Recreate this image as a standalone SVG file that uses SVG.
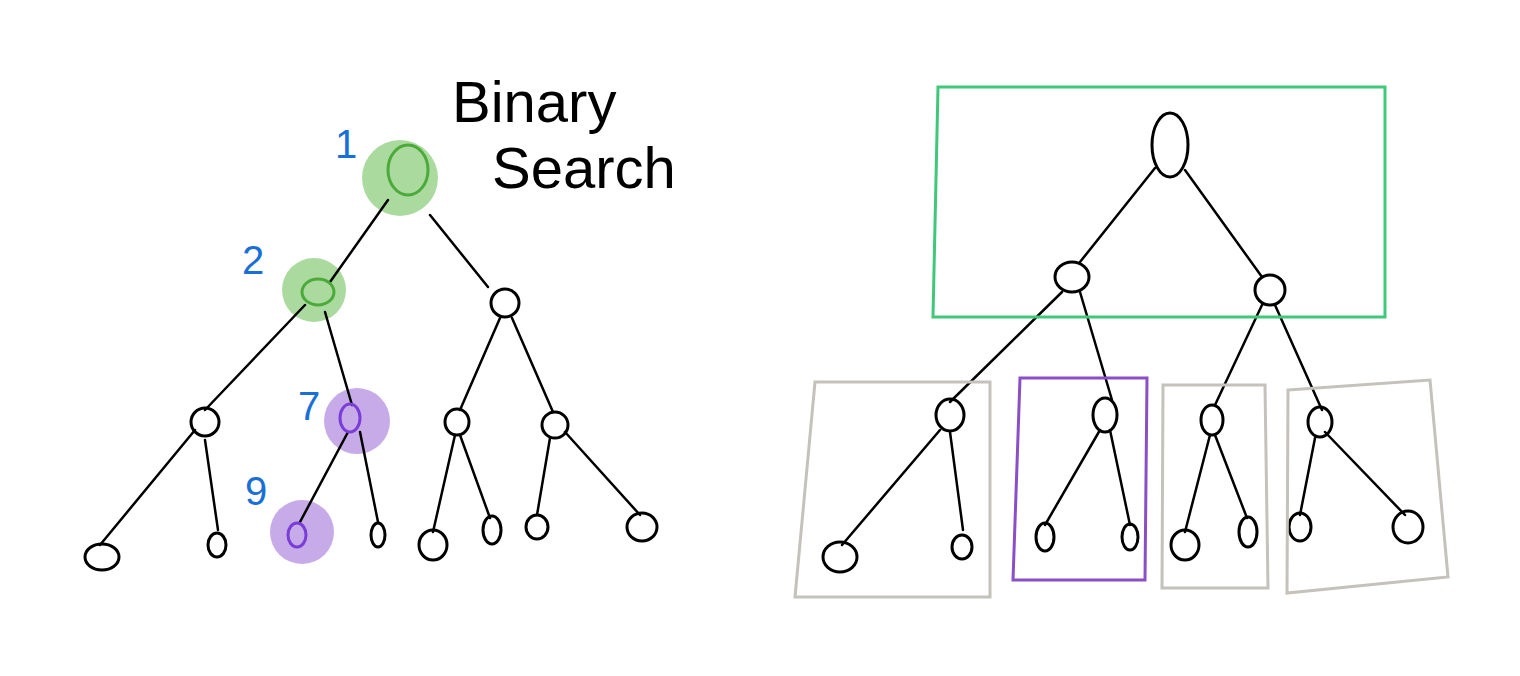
<svg xmlns="http://www.w3.org/2000/svg" width="1520" height="676" viewBox="0 0 1520 676">
<style>
.n{fill:none;stroke:#000;stroke-width:3}
.g{stroke:#4caa3a}
.p{stroke:#7a3ed6}
.e{stroke:#000;stroke-width:2.5;fill:none;stroke-linecap:round}
.lbl{font-family:"Liberation Sans",sans-serif;fill:#1a6fd6;font-size:40px}
.t{font-family:"Liberation Sans",sans-serif;fill:#000;font-size:58px;font-weight:300}
</style>
<rect width="1520" height="676" fill="#fff"/>
<g id="highlights">
<circle cx="400" cy="178" r="38" fill="#8fce7f" opacity="0.75"/>
<circle cx="314" cy="290" r="32" fill="#8fce7f" opacity="0.75"/>
<circle cx="357" cy="421" r="33" fill="#b48ee0" opacity="0.75"/>
<circle cx="302" cy="532" r="32" fill="#b48ee0" opacity="0.75"/>
</g>
<g id="connectors">
<path class="e" d="M388 200 L330 282 M430 215 L488 287 M305 305 L205 410 M325 312 L352 405 M500 318 L460 410 M512 318 L553 412 M195 430 L100 545 M205 440 L218 530 M348 432 L300 522 M360 432 L378 522 M455 435 L433 532 M460 435 L490 518 M550 438 L537 515 M565 432 L640 515"/>
<path class="e" d="M1155 168 L1080 262 M1185 170 L1262 277 M1062 292 L950 402 M1080 292 L1112 400 M1262 305 L1215 405 M1275 305 L1322 410 M940 430 L842 545 M950 432 L963 530 M1100 430 L1045 525 M1110 430 L1130 525 M1210 435 L1185 532 M1215 435 L1247 518 M1315 438 L1300 515 M1325 432 L1405 515"/>
</g>
<g id="left-nodes">
<ellipse class="n g" cx="408" cy="170" rx="20" ry="25"/>
<ellipse class="n g" cx="318" cy="292" rx="16" ry="13"/>
<ellipse class="n" cx="505" cy="303" rx="14" ry="14"/>
<ellipse class="n" cx="205" cy="422" rx="14" ry="14"/>
<ellipse class="n p" cx="350" cy="418" rx="10" ry="14"/>
<ellipse class="n" cx="457" cy="422" rx="12" ry="13"/>
<ellipse class="n" cx="555" cy="425" rx="13" ry="13"/>
<ellipse class="n" cx="102" cy="557" rx="17" ry="13"/>
<ellipse class="n" cx="217" cy="545" rx="9" ry="12"/>
<ellipse class="n p" cx="297" cy="535" rx="9" ry="12"/>
<ellipse class="n" cx="378" cy="535" rx="7" ry="12"/>
<ellipse class="n" cx="433" cy="545" rx="14" ry="15"/>
<ellipse class="n" cx="492" cy="530" rx="9" ry="14"/>
<ellipse class="n" cx="537" cy="527" rx="11" ry="12"/>
<ellipse class="n" cx="642" cy="527" rx="15" ry="14"/>
</g>
<g id="labels">
<text class="lbl" x="335" y="158">1</text>
<text class="lbl" x="242" y="274">2</text>
<text class="lbl" x="298" y="420">7</text>
<text class="lbl" x="245" y="505">9</text>
<text class="t" x="452" y="122">Binary</text>
<text class="t" x="492" y="188">Search</text>
</g>
<g id="right-nodes">
<ellipse class="n" cx="1170" cy="145" rx="18" ry="32"/>
<ellipse class="n" cx="1072" cy="277" rx="17" ry="15"/>
<ellipse class="n" cx="1270" cy="290" rx="15" ry="15"/>
<ellipse class="n" cx="950" cy="415" rx="14" ry="16"/>
<ellipse class="n" cx="1105" cy="415" rx="12" ry="17"/>
<ellipse class="n" cx="1212" cy="420" rx="11" ry="15"/>
<ellipse class="n" cx="1320" cy="422" rx="12" ry="15"/>
<ellipse class="n" cx="840" cy="557" rx="17" ry="15"/>
<ellipse class="n" cx="962" cy="547" rx="10" ry="12"/>
<ellipse class="n" cx="1045" cy="537" rx="9" ry="14"/>
<ellipse class="n" cx="1130" cy="537" rx="8" ry="13"/>
<ellipse class="n" cx="1185" cy="545" rx="14" ry="15"/>
<ellipse class="n" cx="1248" cy="532" rx="9" ry="15"/>
<ellipse class="n" cx="1300" cy="527" rx="11" ry="14"/>
<ellipse class="n" cx="1408" cy="527" rx="15" ry="16"/>
</g>
<g id="boxes" fill="none" stroke-width="3">
<polygon points="938,87 1385,87 1385,317 933,317" stroke="#3fc77a"/>
<polygon points="815,382 990,382 990,597 795,597" stroke="#c5c1bb"/>
<polygon points="1020,378 1147,378 1145,580 1013,580" stroke="#8a4ec6"/>
<polygon points="1163,385 1265,385 1268,588 1162,588" stroke="#c5c1bb"/>
<polygon points="1288,390 1430,380 1448,577 1287,593" stroke="#c5c1bb"/>
</g>
</svg>
